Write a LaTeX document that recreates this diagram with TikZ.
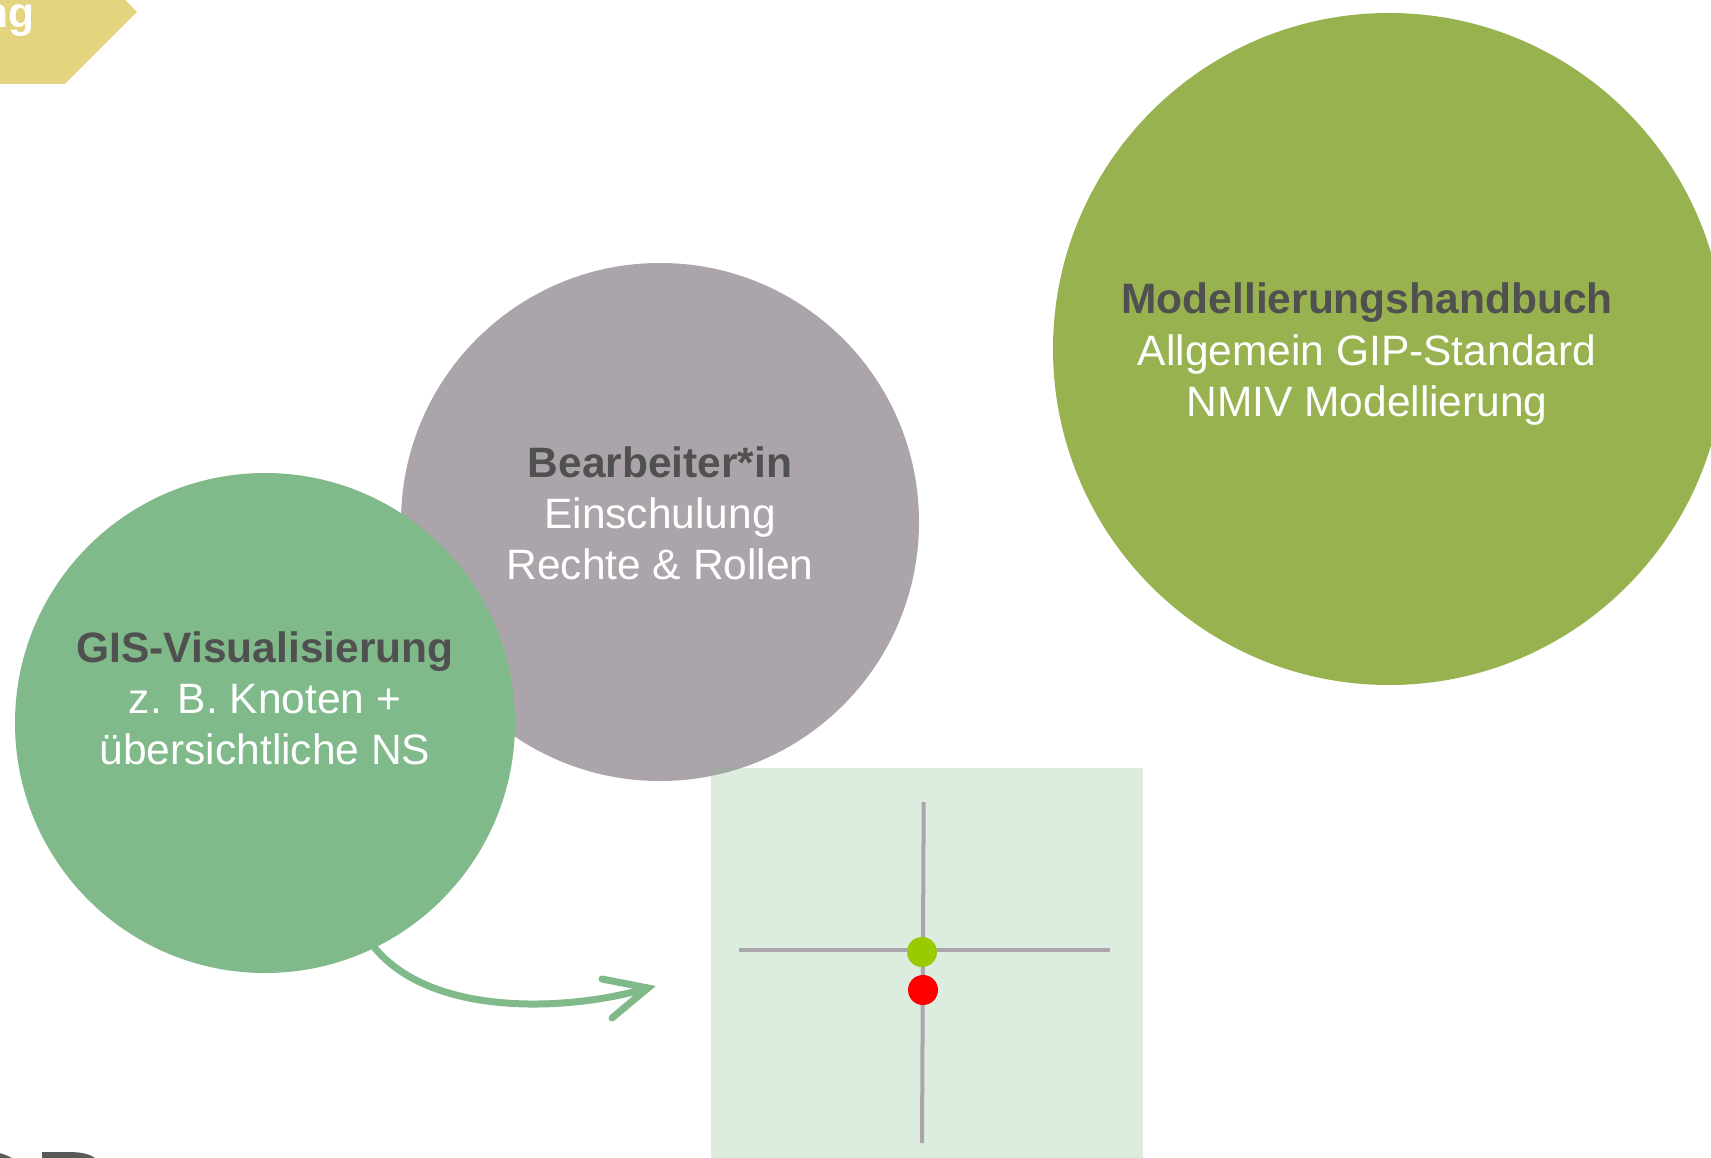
\documentclass[tikz,border=0pt]{standalone}
\usepackage{fontspec}
\setmainfont{Liberation Sans}
\definecolor{olive}{HTML}{97B24F}
\definecolor{greycirc}{HTML}{ACA4AB}
\definecolor{greencirc}{HTML}{80B98A}
\definecolor{tagyellow}{HTML}{E3D47F}
\definecolor{darktext}{HTML}{505050}
\definecolor{crossgrey}{HTML}{ABA5AC}
\definecolor{dotgreen}{HTML}{99CC00}
\definecolor{logogrey}{HTML}{595959}
\tikzset{
  bubble/.style={circle, inner sep=0pt, outer sep=0pt, draw=none},
  titletxt/.style={anchor=base, inner sep=0pt, text=darktext, font=\fontsize{42.5}{51}\selectfont\bfseries},
  bodytxt/.style={anchor=base, inner sep=0pt, text=white, font=\fontsize{42.5}{51}\selectfont},
  crossline/.style={draw=crossgrey, line width=4pt},
  dotnode/.style={circle, inner sep=0pt, minimum size=30pt, draw=none},
  arrowline/.style={draw=greencirc, line width=7pt, line cap=round, line join=miter}
}
\begin{document}
\begin{tikzpicture}[x=1pt,y=-1pt]
\useasboundingbox (0,0) rectangle (1711,1158);
\clip (0,0) rectangle (1711,1158);
\fill[white] (0,0) rectangle (1711,1158);

% top-left tag
\fill[tagyellow] (0,0) -- (125,0) -- (137,12) -- (65,84) -- (0,84) -- cycle;
\node[anchor=base east, inner sep=0pt, text=white, font=\fontsize{42.5}{51}\selectfont\bfseries] (tagtxt) at (35,28) {ng};

% bottom-left partial logo glyphs
\fill[logogrey] (-10,1200) ellipse [x radius=45, y radius=48];
\fill[logogrey] (42,1170) -- (42,1152) -- (68,1152) .. controls (82,1152) and (93,1154) .. (99,1162) -- (99,1170) -- cycle;

% circles
\node[bubble, fill=olive, minimum size=672pt] (mod) at (1389,349) {};
\node[bubble, fill=greycirc, minimum size=518pt] (bear) at (660,522) {};

% light green panel
\fill[greencirc, fill opacity=0.27] (711,768) rectangle (1143,1170);

\node[bubble, fill=greencirc, minimum size=500pt] (gis) at (265,723) {};

% texts
\node[titletxt] (modA) at (1367,314) {Modellierungshandbuch};
\node[bodytxt] (modB) at (1367,365) {Allgemein GIP-Standard};
\node[bodytxt] (modC) at (1367,416) {NMIV Modellierung};

\node[titletxt] (bearA) at (660,477) {Bearbeiter*in};
\node[bodytxt] (bearB) at (660,528) {Einschulung};
\node[bodytxt] (bearC) at (660,579) {Rechte \& Rollen};

\node[titletxt] (gisA) at (265,662) {GIS-Visualisierung};
\node[bodytxt] (gisB) at (265,713) {z. B. Knoten +};
\node[bodytxt] (gisC) at (265,764) {übersichtliche NS};

% cross
\coordinate (hl) at (739,950);
\coordinate (hr) at (1110,950);
\coordinate (vt) at (923.7,802);
\coordinate (vb) at (922,1143);
\draw[crossline] (hl) -- (hr);
\draw[crossline] (vt) -- (vb);
\node[dotnode, fill=dotgreen] (gdot) at (922,952) {};
\node[dotnode, fill=red] (rdot) at (923,990) {};

% arrow
\coordinate (tip) at (648,988);
\coordinate (barbA) at (602,979);
\coordinate (barbB) at (612,1018);
\coordinate (curveend) at (641,990);
\draw[arrowline] (gis.-64) .. controls (430,1015) and (560,1012) .. (curveend);
\draw[arrowline] (barbA) -- (tip) -- (barbB);
\end{tikzpicture}
\end{document}
